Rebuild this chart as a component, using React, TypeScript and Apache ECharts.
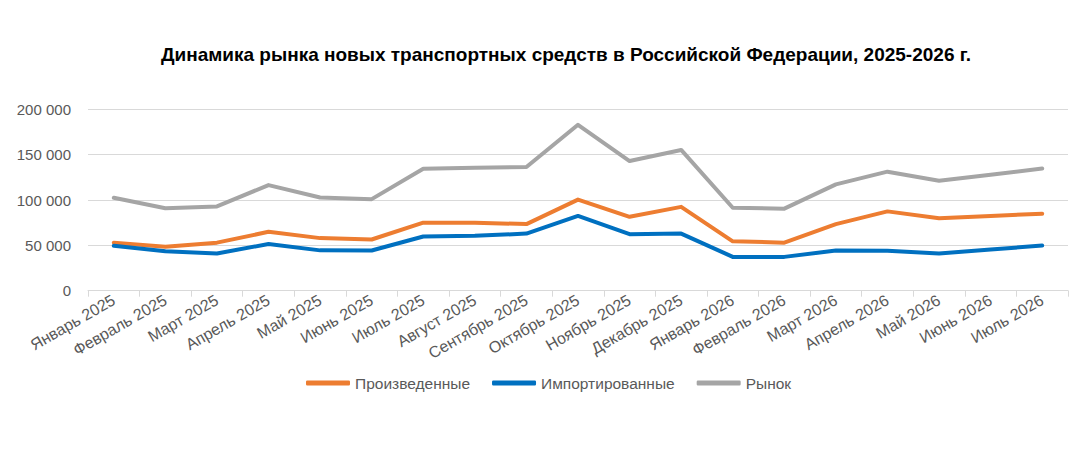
import React, { useEffect, useRef } from "react";
import * as echarts from "echarts";

const categories = [
  "Январь 2025", "Февраль 2025", "Март 2025", "Апрель 2025", "Май 2025", "Июнь 2025",
  "Июль 2025", "Август 2025", "Сентябрь 2025", "Октябрь 2025", "Ноябрь 2025", "Декабрь 2025",
  "Январь 2026", "Февраль 2026", "Март 2026", "Апрель 2026", "Май 2026", "Июнь 2026", "Июль 2026",
];

const produced = [53000, 48500, 53000, 65000, 58000, 56500, 75000, 75000, 73500, 100500, 81500, 92500, 54500, 53000, 73500, 87500, 80000, 82500, 85000];
const imported = [49500, 43500, 41000, 51500, 44500, 44300, 59800, 60500, 63000, 82500, 62300, 63000, 37300, 37300, 44300, 44000, 41000, 45500, 49800];
const market = [102500, 91000, 93000, 116500, 102800, 101000, 134500, 135500, 136500, 183000, 143000, 155300, 91500, 90500, 117300, 131300, 121300, 128000, 134700];

const yTicks = [0, 50000, 100000, 150000, 200000];

const FONT = "'Liberation Sans Narrow', 'Arial Narrow', 'Liberation Sans', Arial, sans-serif";

export default function App() {
  const ref = useRef<HTMLDivElement>(null);
  useEffect(() => {
    document.body.style.margin = "0";
    const chart = echarts.init(ref.current!, null, { renderer: "svg" });
    const fmt = (v: number) => String(v).replace(/\B(?=(\d{3})+(?!\d))/g, " ");
    chart.setOption({
      animation: false,
      backgroundColor: "#ffffff",
      title: {
        text: "Динамика рынка новых транспортных средств в Российской Федерации, 2025-2026 г.",
        left: 561,
        textAlign: "center",
        top: 40,
        textStyle: { fontFamily: "'Liberation Sans', Arial, sans-serif", fontWeight: "bold", fontSize: 19, color: "#000000" },
      },
      legend: {
        left: 301,
        top: 370,
        itemWidth: 44,
        itemHeight: 5,
        itemGap: 22,
        icon: "roundRect",
        textStyle: { fontFamily: FONT, fontSize: 15.5, color: "#595959" },
        data: ["Произведенные", "Импортированные", "Рынок"],
      },
      grid: { left: 88, right: 4, top: 109.4, bottom: 181.3, containLabel: false },
      xAxis: {
        type: "category",
        data: categories,
        boundaryGap: true,
        axisLine: { lineStyle: { color: "#d9d9d9", width: 1 } },
        axisTick: { show: true, length: 6, lineStyle: { color: "#d9d9d9" } },
        axisLabel: {
          rotate: 30,
          interval: 0,
          margin: 8,
          fontFamily: FONT,
          fontSize: 16,
          color: "#595959",
        },
      },
      yAxis: {
        type: "value",
        min: yTicks[0],
        max: yTicks[yTicks.length - 1],
        interval: 50000,
        axisLine: { show: false },
        axisTick: { show: false },
        splitLine: { lineStyle: { color: "#d9d9d9", width: 1 } },
        axisLabel: {
          margin: 17,
          fontFamily: FONT,
          fontSize: 15,
          color: "#595959",
          formatter: (v: number) => fmt(v),
        },
      },
      series: [
        { name: "Произведенные", type: "line", data: produced, symbol: "none", lineStyle: { width: 4, color: "#ED7D31", cap: "round", join: "round" }, itemStyle: { color: "#ED7D31" }, z: 3 },
        { name: "Импортированные", type: "line", data: imported, symbol: "none", lineStyle: { width: 4, color: "#0070C0", cap: "round", join: "round" }, itemStyle: { color: "#0070C0" }, z: 3 },
        { name: "Рынок", type: "line", data: market, symbol: "none", lineStyle: { width: 4, color: "#A5A5A5", cap: "round", join: "round" }, itemStyle: { color: "#A5A5A5" }, z: 2 },
      ],
    });
    return () => chart.dispose();
  }, []);
  return <div ref={ref} style={{ position: "absolute", left: 0, top: 0, width: 1072, height: 472 }} />;
}
